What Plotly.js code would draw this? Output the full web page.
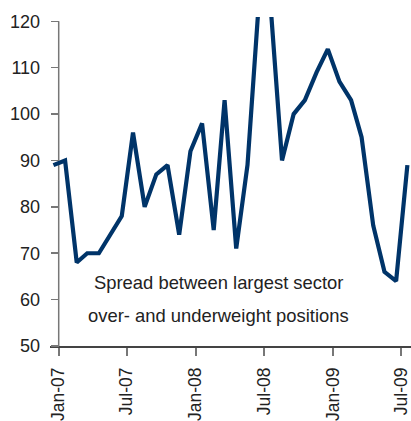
<!DOCTYPE html>
<html>
<head>
<meta charset="utf-8">
<script src="https://cdn.plot.ly/plotly-3.0.1.min.js"></script>
<style>html,body{margin:0;padding:0;background:#fff;}#chart{width:411px;height:421px;}</style>
</head>
<body>
<div id="chart"></div>
<script>
// Monthly observations, Dec-06 .. Jul-09
const months = ["2006-12-18","2007-01-18","2007-02-18","2007-03-18","2007-04-18","2007-05-18","2007-06-18","2007-07-18","2007-08-18","2007-09-18","2007-10-18","2007-11-18","2007-12-18","2008-01-18","2008-02-18","2008-03-18","2008-04-18","2008-05-18","2008-06-18","2008-07-18","2008-08-18","2008-09-18","2008-10-18","2008-11-18","2008-12-18","2009-01-18","2009-02-18","2009-03-18","2009-04-18","2009-05-18","2009-06-18","2009-07-18"];
const spread = [89,90,68,70,70,74,78,96,80,87,89,74,92,98,75,103,71,89,125,124,90,100,103,109,114,107,103,95,76,66,64,89];
const tickDates = ["2007-01-01","2007-07-01","2008-01-01","2008-07-01","2009-01-01","2009-07-01"];
const tickLabels = ["Jan-07","Jul-07","Jan-08","Jul-08","Jan-09","Jul-09"];
const yTicks = [50,60,70,80,90,100,110,120];
const noteLines = ["Spread between largest sector","over- and underweight positions"];

const FONT = "'Liberation Sans',Arial,sans-serif";
const YAXIS_POS = 0.0241;

const trace = {
  x: months, y: spread, type: 'scatter', mode: 'lines',
  line: {color: '#003469', width: 4.2},
  hoverinfo: 'skip'
};

const layout = {
  width: 411, height: 421,
  margin: {l: 50, r: 0, t: 17, b: 75, pad: 0},
  paper_bgcolor: '#ffffff', plot_bgcolor: '#ffffff',
  showlegend: false,
  font: {family: FONT, size: 18, color: '#222222'},
  xaxis: {
    type: 'date',
    range: ['2006-12-08 19:40', '2009-07-27 15:36'],
    tickvals: tickDates, ticktext: tickLabels,
    tickangle: -90,
    ticks: 'outside', ticklen: 8, tickwidth: 2, tickcolor: '#777777',
    ticklabelstandoff: 5,
    ticklabeloverflow: 'allow',
    showline: true, linecolor: '#444444', linewidth: 1.5,
    showgrid: false, zeroline: false,
    tickfont: {family: FONT, size: 17.5, color: '#222222'}
  },
  yaxis: {
    range: [50, 120.93],
    tickvals: yTicks,
    anchor: 'free', position: YAXIS_POS,
    ticks: 'outside', ticklen: 8, tickwidth: 1.5, tickcolor: '#777777',
    ticklabelstandoff: 7,
    showline: false,
    showgrid: false, zeroline: false,
    tickfont: {family: FONT, size: 18, color: '#222222'}
  },
  shapes: [{
    type: 'line', xref: 'paper', yref: 'y',
    x0: YAXIS_POS, x1: YAXIS_POS, y0: yTicks[0], y1: yTicks[yTicks.length - 1],
    line: {color: '#777777', width: 1.5}, layer: 'below'
  }],
  annotations: noteLines.map((t, i) => ({
    text: t, xref: 'paper', yref: 'paper',
    x: 0.4668, y: i === 0 ? 0.1930 : 0.0940,
    xanchor: 'center', yanchor: 'middle', showarrow: false,
    font: {family: FONT, size: 18.4, color: '#222222'}
  }))
};

Plotly.newPlot('chart', [trace], layout, {staticPlot: true, displayModeBar: false});
</script>
</body>
</html>
